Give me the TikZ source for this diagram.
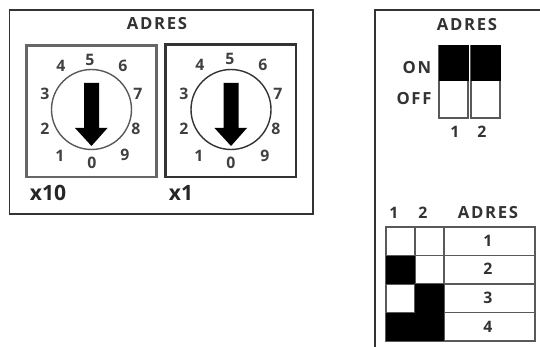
\documentclass[tikz,border=0pt]{standalone}
\usepackage{fontspec}
\setmainfont{Open Sans}
\newfontfamily\spacedfont[LetterSpace=10]{Open Sans}
\tikzset{
  frameline/.style={draw=black!80, line width=0.7pt},
  boxline/.style={draw=black!80, line width=1.4pt},
  thinline/.style={draw=black!65, line width=0.8pt},
  digit/.style={font=\fontsize{9}{9}\bfseries, text=black!75, inner sep=0pt},
  label/.style={font=\fontsize{9}{9}\bfseries, text=black!80, inner sep=0pt},
  title/.style={font=\fontsize{9.5}{10}\spacedfont\bfseries, text=black!80, inner sep=0pt},
  bigl/.style={font=\fontsize{12}{12}\bfseries, text=black!85, inner sep=0pt},
  pointer/.style={fill=black, draw=none},
}
\begin{document}
\begin{tikzpicture}[x=0.02cm, y=-0.02cm]
	\useasboundingbox (0, 0) rectangle (540, 347);
	% left panel
	\draw[frameline] (9.5, 10) rectangle (313, 214);
	\node[title] (titleL) at (157, 24) {ADRES};
	\draw[boxline, draw=black!60, line width=1.7pt] (26.5, 45.5) rectangle (156.5, 177);
	\draw[boxline] (165.5, 44.5) rectangle (296, 177);
	\node[bigl] (xten) at (48, 193) {x10};
	\node[bigl] (xone) at (181, 193) {x1};
	% x10 dial
	\draw[thinline] (91.5, 109.5) circle (40);
	\fill[pointer] (84, 83) -- (99, 83) -- (99, 128) -- (107.5, 128) -- (91.5, 146) -- (75, 128) -- (84, 128) -- cycle;
	\node[digit] (a0) at (92, 163) {0};
	\node[digit] (a1) at (60, 156) {1};
	\node[digit] (a2) at (45, 129) {2};
	\node[digit] (a3) at (45, 94) {3};
	\node[digit] (a4) at (61, 66) {4};
	\node[digit] (a5) at (90, 60) {5};
	\node[digit] (a6) at (123, 66) {6};
	\node[digit] (a7) at (138, 94) {7};
	\node[digit] (a8) at (136, 129) {8};
	\node[digit] (a9) at (125, 155) {9};
	% x1 dial
	\draw[thinline, draw=black!80] (231, 109.5) circle (40);
	\fill[pointer] (223.5, 83) -- (238.5, 83) -- (238.5, 128) -- (247, 128) -- (231, 146) -- (214.5, 128) -- (223.5, 128) -- cycle;
	\node[digit] (b0) at (231, 163) {0};
	\node[digit] (b1) at (199, 156) {1};
	\node[digit] (b2) at (184, 129) {2};
	\node[digit] (b3) at (184, 94) {3};
	\node[digit] (b4) at (200, 65) {4};
	\node[digit] (b5) at (230, 59) {5};
	\node[digit] (b6) at (263, 65) {6};
	\node[digit] (b7) at (278, 94) {7};
	\node[digit] (b8) at (276, 129) {8};
	\node[digit] (b9) at (265, 156) {9};
	% right panel
	\draw[frameline] (540, 10) -- (375, 10) -- (375, 347);
	\node[title] (titleR) at (467, 25) {ADRES};
	\node[title] (on) at (417, 68) {ON};
	\node[title] (off) at (414, 99) {OFF};
	\draw[thinline] (439, 46) rectangle (468, 118);
	\draw[thinline] (471, 46) rectangle (500, 118);
	\fill[black] (438.5, 45.5) rectangle (468.5, 81);
	\fill[black] (470.5, 45.5) rectangle (500.5, 81);
	\node[label] (sw1) at (455, 132) {1};
	\node[label] (sw2) at (482, 132) {2};
	% table
	\node[label] (col1) at (394, 213) {1};
	\node[label] (col2) at (423, 213) {2};
	\node[title] (col3) at (488, 213) {ADRES};
	\draw[thinline] (386, 227) rectangle (535, 341);
	\draw[thinline] (415, 227) -- (415, 341);
	\draw[thinline] (444, 227) -- (444, 341);
	\draw[thinline] (386, 255.5) -- (535, 255.5);
	\draw[thinline] (386, 284) -- (535, 284);
	\draw[thinline] (386, 312.5) -- (535, 312.5);
	\fill[black] (386, 255.5) rectangle (415, 284);
	\fill[black] (415, 284) rectangle (444, 341);
	\fill[black] (386, 312.5) rectangle (415, 341);
	\node[label] (row1) at (488, 241) {1};
	\node[label] (row2) at (488, 269) {2};
	\node[label] (row3) at (488, 298) {3};
	\node[label] (row4) at (488, 327) {4};
\end{tikzpicture}
\end{document}
